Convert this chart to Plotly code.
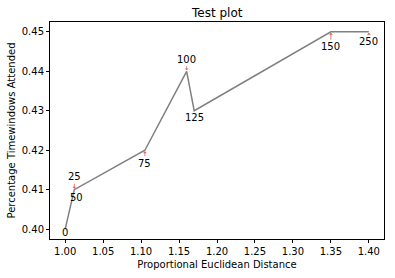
import plotly.graph_objects as go

dist = [1.00, 1.012, 1.012, 1.105, 1.16, 1.17, 1.35, 1.40]
attended = [0.40, 0.41, 0.41, 0.42, 0.44, 0.43, 0.45, 0.45]
labels = ["0", "25", "50", "75", "100", "125", "150", "250"]
# text offsets (pixels) for each label
offx = [0, 0, 2, 0, 0, 0, 0, 0]
offy = [3, -13, 8, 13, -12, 7, 15, 10]

fig = go.Figure()
fig.add_trace(go.Scatter(x=dist, y=attended, mode="lines",
                         line=dict(color="#808080", width=1.5), showlegend=False))

for x, y, t, dx, dy in zip(dist, attended, labels, offx, offy):
    fig.add_annotation(x=x, y=y, text=t, showarrow=True, ax=dx, ay=dy,
                       arrowcolor="#e06060", arrowhead=1, arrowsize=0.8,
                       arrowwidth=0.8, standoff=1,
                       font=dict(size=10, color="black"))

fig.update_layout(
    width=395, height=278,
    margin=dict(l=50, r=10, t=22, b=36),
    paper_bgcolor="white", plot_bgcolor="white",
    font=dict(family="DejaVu Sans", size=10, color="black"),
    title=dict(text="Test plot", x=0.55, xanchor="center", y=0.955, yanchor="middle",
               font=dict(size=12)),
    showlegend=False,
)
fig.update_xaxes(range=[0.98, 1.42], tickvals=[1.00, 1.05, 1.10, 1.15, 1.20, 1.25, 1.30, 1.35, 1.40],
                 ticktext=["1.00", "1.05", "1.10", "1.15", "1.20", "1.25", "1.30", "1.35", "1.40"],
                 ticks="outside", ticklen=3, tickcolor="black", showline=True, linecolor="black",
                 linewidth=1, mirror=True, showgrid=False, zeroline=False,
                 title=dict(text="Proportional Euclidean Distance", standoff=4, font=dict(size=10)),
                 tickfont=dict(size=10))
fig.update_yaxes(range=[0.3975, 0.4525], tickvals=[0.40, 0.41, 0.42, 0.43, 0.44, 0.45],
                 ticktext=["0.40", "0.41", "0.42", "0.43", "0.44", "0.45"],
                 ticks="outside", ticklen=3, tickcolor="black", showline=True, linecolor="black",
                 linewidth=1, mirror=True, showgrid=False, zeroline=False,
                 title=dict(text="Percentage Timewindows Attended", standoff=4, font=dict(size=10)),
                 tickfont=dict(size=10))

fig.write_html("out.html")
